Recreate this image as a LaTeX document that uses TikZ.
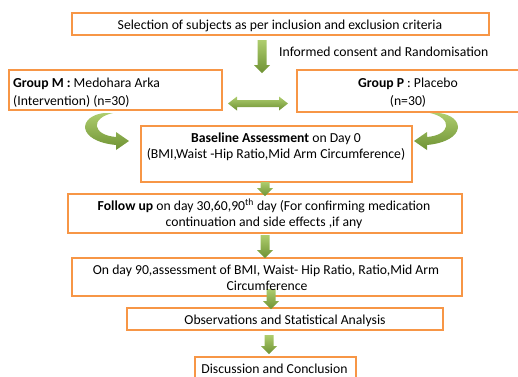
\documentclass[tikz,border=0pt]{standalone}
\usepackage{fontspec}
\setmainfont{Carlito}
\definecolor{boxorange}{HTML}{F79646}
\definecolor{gtop}{HTML}{AECD6E}
\definecolor{gbot}{HTML}{6E9233}
\tikzset{
  box/.style={draw=boxorange, line width=1.2pt, fill=white, inner sep=0pt},
  txt/.style={font=\fontsize{13.7}{15}\selectfont, inner sep=0pt, anchor=base},
  garrow/.style={top color=gtop, bottom color=gbot, draw=none}
}
\newcommand\greendown[3]{%
  \shade[garrow] ({#1-4.5},#2) -- ({#1+4.5},#2) -- ({#1+4.5},{#3-8}) -- ({#1+8},{#3-8})
    -- (#1,#3) -- ({#1-8},{#3-8}) -- ({#1-4.5},{#3-8}) -- cycle;}
\begin{document}
\begin{tikzpicture}[x=1pt,y=-1pt]
\useasboundingbox (0,0) rectangle (518,376);
% boxes
\node[box, minimum width=417pt, minimum height=22pt] (sel) at (280.5,24) {};
\node[box, minimum width=213pt, minimum height=40pt] (gm) at (115.5,90) {};
\node[box, minimum width=223pt, minimum height=42pt] (gp) at (408.5,91) {};
\node[box, minimum width=271pt, minimum height=56pt] (base) at (276.5,154) {};
\node[box, minimum width=394pt, minimum height=39pt] (fol) at (265,213.5) {};
\node[box, minimum width=390pt, minimum height=38pt] (d90) at (267,277) {};
\node[box, minimum width=316pt, minimum height=22pt] (obs) at (285,319) {};
\node[box, minimum width=161pt, minimum height=30pt] (dis) at (275.5,372) {};
% straight block arrows
\greendown{262}{40}{73}
\greendown{265}{182}{196}
\greendown{265}{235}{258}
\greendown{271}{289}{309}
\greendown{269}{335}{354}
% double arrow
\shade[garrow] (228,103.5) -- (237,96.5) -- (237,100) -- (279,100) -- (279,96.5)
  -- (288,103.5) -- (279,110.5) -- (279,107) -- (237,107) -- (237,110.5) -- cycle;
% curved arrows
\shade[garrow] (104,113) .. controls (78,116) and (76,141) .. (116,145)
  -- (116,150) -- (129,141) -- (116,132) -- (116,137)
  .. controls (92,135) and (90,118) .. (113,113) -- cycle;
\shade[garrow] (439,113) .. controls (465,116) and (467,141) .. (427,145)
  -- (427,150) -- (414,141) -- (427,132) -- (427,137)
  .. controls (451,135) and (453,118) .. (430,113) -- cycle;
% texts
\node[txt] (t1) at (280,29.5) {Selection of subjects as per inclusion and exclusion criteria};
\node[txt, anchor=base west] (t2) at (279,56.5) {Informed consent and Randomisation};
\node[txt, anchor=base west] (t3) at (13,87.5) {\textbf{Group M :} Medohara Arka};
\node[txt, anchor=base west] (t4) at (13,105.5) {(Intervention) (n=30)};
\node[txt] (t5) at (408,87.5) {\textbf{Group P} : Placebo};
\node[txt] (t6) at (408,105.5) {(n=30)};
\node[txt] (t7) at (276,142.5) {\textbf{Baseline Assessment} on Day 0};
\node[txt] (t8) at (276,158.5) {(BMI,Waist -Hip Ratio,Mid Arm Circumference)};
\node[txt] (t9) at (264,210.5) {\textbf{Follow up} on day 30,60,90\textsuperscript{th} day (For confirming medication};
\node[txt] (t10) at (264,226.5) {continuation and side effects ,if any};
\node[txt] (t11) at (266,274.5) {On day 90,assessment of BMI, Waist- Hip Ratio, Ratio,Mid Arm};
\node[txt] (t12) at (267,290.5) {Circumference};
\node[txt] (t13) at (285,324.5) {Observations and Statistical Analysis};
\node[txt] (t14) at (274.5,373) {Discussion and Conclusion};
\end{tikzpicture}
\end{document}
